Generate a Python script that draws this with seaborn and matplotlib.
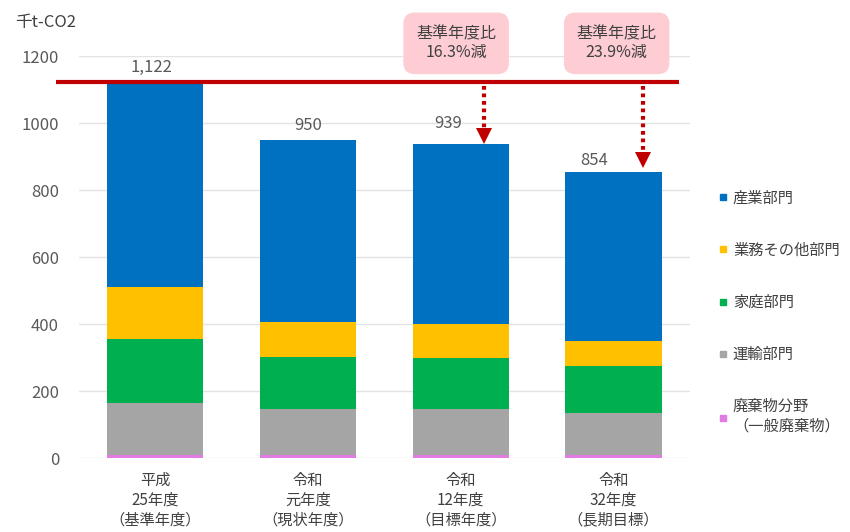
import numpy as np
import pandas as pd
import matplotlib
matplotlib.use("Agg")
import matplotlib.pyplot as plt
from matplotlib.lines import Line2D
import seaborn as sns

# data (千t-CO2)
years = ["平成\n25年度\n（基準年度）", "令和\n元年度\n（現状年度）",
         "令和\n12年度\n（目標年度）", "令和\n32年度\n（長期目標）"]
sectors = ["産業部門", "業務その他部門", "家庭部門", "運輸部門", "廃棄物分野\n（一般廃棄物）"]
industry = [612, 544, 539, 505]
commercial = [155, 105, 101, 74]
household = [190, 155, 153, 141]
transport = [155, 136, 136, 124]
waste = [10, 10, 10, 10]
totals = [1122, 950, 939, 854]
base_value = 1122
reduction_labels = ["基準年度比\n16.3%減", "基準年度比\n23.9%減"]

COLORS = ["#0070C0", "#FFC000", "#00B050", "#A5A5A5", "#E27BE2"]
RED = "#C00000"

sns.set_theme(style="white")
plt.rcParams["font.family"] = ["Noto Sans CJK JP", "DejaVu Sans"]

fig = plt.figure(figsize=(8.5, 5.32), dpi=100)
ax = fig.add_axes([0.0924, 0.139, 0.7194, 0.7556])

# stacked bars: draw cumulative totals from top layer down
layers = [industry, commercial, household, transport, waste]
cum = np.cumsum(np.array(layers[::-1]), axis=0)[::-1]  # cum[0] = full total
for vals, color in zip(cum, COLORS):
    df = pd.DataFrame({"year": years, "value": vals})
    sns.barplot(data=df, x="year", y="value", color=color, saturation=1,
                width=0.63, errorbar=None, ax=ax, zorder=2, linewidth=0)

ax.set_ylim(0, 1200)
ax.set_xlim(-0.5, 3.5)
ax.set_yticks(np.arange(0, 1201, 200))
ax.yaxis.grid(True, color="#E3E3E3", lw=1, zorder=0)
ax.set_axisbelow(True)
for s in ax.spines.values():
    s.set_visible(False)
ax.set_xlabel("")
ax.set_ylabel("")
ax.tick_params(axis="y", length=0, pad=14, labelsize=12, labelcolor="#595959")
ax.tick_params(axis="x", length=0, pad=10, labelsize=11, labelcolor="#404040")
for lbl in ax.get_xticklabels():
    lbl.set_linespacing(1.22)

fig.text(0.018, 0.958, "千t-CO2", fontsize=12, color="#404040", va="center")

# base-year line
ax.plot([-0.65, 3.43], [base_value, base_value], color=RED, lw=3,
        clip_on=False, zorder=5, solid_capstyle="butt")

# total labels
label_dx = [-0.02, 0.0, -0.08, -0.13]
label_dy = [20, 16, 34, 9]
for i, t in enumerate(totals):
    ax.text(i + label_dx[i], t + label_dy[i], f"{t:,}", ha="center", va="bottom",
            fontsize=12, color="#595959", zorder=6)

# reduction callouts with dotted arrows
callout_idx = [2, 3]
arrow_dx = [0.15, 0.19]
tip_gap = [0, 14]
box_dx = [-0.03, 0.02]
for k, (i, txt) in enumerate(zip(callout_idx, reduction_labels)):
    x = i + arrow_dx[k]
    tip = totals[i] + tip_gap[k]
    ax.plot([x, x], [base_value - 12, tip + 35], color=RED, lw=3,
            ls=(0, (0.9, 0.9)), zorder=5, clip_on=False)
    ax.plot([x], [tip + 22], marker="v", ms=11, color=RED, zorder=5,
            clip_on=False, markeredgewidth=0)
    ax.text(i + box_dx[k], 1238, txt, ha="center", va="center", fontsize=11.5,
            color="#404040", linespacing=1.15, zorder=6, clip_on=False,
            bbox=dict(boxstyle="round,pad=0.8,rounding_size=0.7",
                      fc="#FDCDD3", ec="none"))

# legend
handles = [Line2D([], [], marker="s", ls="", color=c, ms=5) for c in COLORS]
fig.legend(handles, sectors, loc="upper left", bbox_to_anchor=(0.838, 0.655),
           frameon=False, fontsize=11, labelspacing=2.3, handlelength=0.6,
           handletextpad=0.35, labelcolor="#404040", borderaxespad=0)

plt.savefig("out.png", dpi=100)
plt.close()
